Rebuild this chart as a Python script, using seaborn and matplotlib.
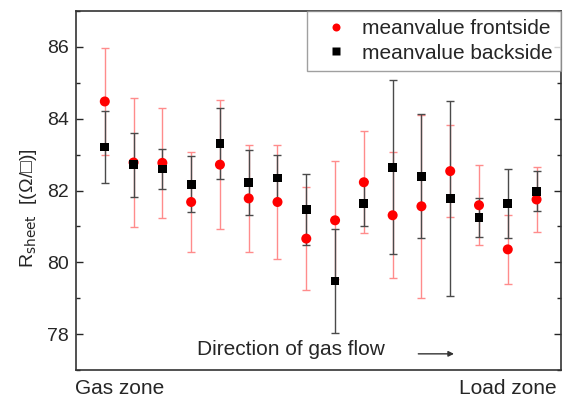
import numpy as np
import pandas as pd
import matplotlib
matplotlib.use("Agg")
import matplotlib.pyplot as plt
import seaborn as sns

# positions along the furnace (gas zone -> load zone)
position = list(range(1, 17))

front_mean = [84.48, 82.78, 82.77, 81.68, 82.72, 81.78, 81.68, 80.66,
              81.17, 82.23, 81.31, 81.56, 82.54, 81.59, 80.36, 81.75]
front_err = [1.49, 1.79, 1.53, 1.40, 1.79, 1.49, 1.60, 1.43,
             1.64, 1.42, 1.75, 2.55, 1.28, 1.11, 0.96, 0.91]

back_mean = [83.21, 82.72, 82.60, 82.17, 83.31, 82.22, 82.35, 81.47,
             79.48, 81.64, 82.65, 82.40, 81.78, 81.24, 81.64, 81.98]
back_err = [1.00, 0.89, 0.55, 0.78, 0.98, 0.90, 0.64, 1.00,
            1.46, 0.63, 2.42, 1.72, 2.72, 0.54, 0.95, 0.55]

FRONT = "meanvalue frontside"
BACK = "meanvalue backside"

df = pd.DataFrame({
    "pos": position * 2,
    "value": front_mean + back_mean,
    "series": [FRONT] * 16 + [BACK] * 16,
})

sns.set_style("ticks")
plt.rcParams["font.family"] = ["Liberation Sans", "DejaVu Sans"]

fig = plt.figure(figsize=(5.63, 4.0), dpi=100)
ax = fig.add_axes([0.135, 0.075, 0.8615, 0.8975])

# error bars
ax.errorbar(position, front_mean, yerr=front_err, fmt="none", ecolor="#ff8c8c",
            elinewidth=1.0, capsize=3, capthick=1.0, zorder=1)
ax.errorbar(position, back_mean, yerr=back_err, fmt="none", ecolor="#4a4a4a",
            elinewidth=1.0, capsize=3, capthick=1.0, zorder=2)

sns.scatterplot(data=df, x="pos", y="value", hue="series", style="series",
                size="series", sizes={FRONT: 52, BACK: 40},
                palette={FRONT: "red", BACK: "black"},
                markers={FRONT: "o", BACK: "s"},
                edgecolor="none", ax=ax, zorder=3)

ax.set_xlim(0, 16.85)
ax.set_ylim(77, 87)
ax.set_yticks([78, 80, 82, 84, 86])
ax.set_yticks([77, 79, 81, 83, 85, 87], minor=True)
ax.set_xticks([])
ax.tick_params(axis="y", which="both", direction="in", right=True, labelsize=14,
               length=5, width=1, pad=5)
ax.tick_params(axis="y", which="minor", length=3)
ax.set_xlabel("")
ax.set_ylabel(r"R$_{\mathrm{sheet}}$  [(Ω/□)]", fontsize=14)
ax.yaxis.set_label_coords(-0.077, 0.45)
for sp in ax.spines.values():
    sp.set_linewidth(1.2)
    sp.set_color("#333333")

leg = ax.legend(loc="upper right", fontsize=15, frameon=True, fancybox=False,
                borderaxespad=0, handletextpad=0.25, markerscale=0.8,
                borderpad=0.4, labelspacing=0.25, handlelength=2.0)
leg.get_frame().set_edgecolor("#888888")
leg.get_frame().set_linewidth(1.0)

ax.text(0.25, 0.056, "Direction of gas flow", transform=ax.transAxes,
        fontsize=15, va="center", ha="left")
ax.annotate("", xy=(0.785, 0.045), xytext=(0.70, 0.045), xycoords="axes fraction",
            arrowprops=dict(arrowstyle="-|>", color="#333333", lw=1.0,
                            mutation_scale=8))

fig.text(75 / 563, 0.028, "Gas zone", fontsize=15, ha="left", va="center")
fig.text(557 / 563, 0.028, "Load zone", fontsize=15, ha="right", va="center")

fig.savefig("out.png", dpi=100)
